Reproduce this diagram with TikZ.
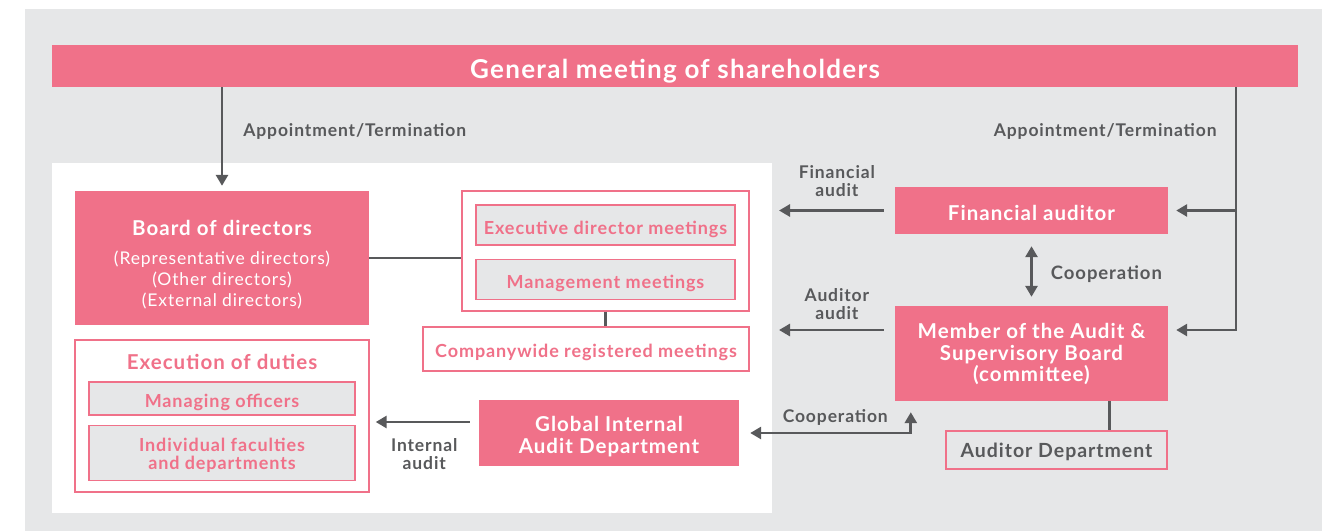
\documentclass[tikz,border=0pt]{standalone}
\usepackage{fontspec}
\setmainfont{Lato}[LetterSpace=5]
\usetikzlibrary{arrows.meta}
\usetikzlibrary{positioning}

\definecolor{rose}{HTML}{F07189}
\definecolor{paper}{HTML}{E6E7E8}
\definecolor{ink}{HTML}{58595B}

\newcommand\dirline[1]{{\mdseries\fontsize{17.5}{21}\selectfont #1}}

\begin{document}
\begin{tikzpicture}[x=1pt,y=-1pt,>={Triangle[length=11pt,width=12pt]},
    every node/.style={inner sep=0pt,align=center},
    solid box/.style={fill=rose,text=white,text depth=0pt,
      font=\bfseries\fontsize{20.5}{21.6}\selectfont},
    frame/.style={draw=rose,line width=1.4pt,fill=white},
    sub box/.style={draw=rose,line width=1.4pt,fill=paper,text=rose,
      text height=18pt,text depth=0pt,font=\bfseries\fontsize{18}{18.3}\selectfont},
    tag/.style={text=ink,font=\bfseries\fontsize{17.5}{18}\selectfont},
    link/.style={draw=ink,line width=2.8pt}]
  \useasboundingbox (0,0) rectangle (1323,531);
  \fill[paper] (25,9) rectangle (1322,531);
  \fill[white] (52,163) rectangle (772,513);

  % shareholders on top
  \node[solid box,minimum width=1246pt,minimum height=42pt,text height=24pt,
    font=\bfseries\fontsize{26}{30}\selectfont] (gm) at (675,66)
    {General meeting of shareholders};

  % executive side
  \node[solid box,minimum width=294pt,minimum height=134pt,text height=96pt,
    font=\bfseries\fontsize{20.5}{21}\selectfont] (board) at (222,258)
    {Board of directors\\[7.3pt]
     \dirline{(Representative directors)}\\
     \dirline{(Other directors)}\\
     \dirline{(External directors)}};
  \node[frame,minimum width=287pt,minimum height=120pt] (meet) at (605.5,251) {};
  \node[sub box,minimum width=259pt,minimum height=40pt] (exec) at (605.5,225)
    {Executive director meetings};
  \node[sub box,minimum width=259pt,minimum height=40pt] (mgmt) [below=13pt of exec]
    {Management meetings};
  \node[frame,minimum width=326pt,minimum height=44pt,text=rose,
    text height=16.6pt,text depth=0pt,
    font=\bfseries\fontsize{18}{20}\selectfont] (cw) at (586,349)
    {Companywide registered meetings};

  \node[frame,minimum width=294pt,minimum height=152pt] (duty) at (222,416) {};
  \node[text=rose,font=\bfseries\fontsize{20.5}{22}\selectfont] (dtitle) at (222,362)
    {Execution of duties};
  \node[sub box,minimum width=266pt,minimum height=33pt,text height=17.6pt] (mo)
    at (222,398.5) {Managing officers};
  \node[sub box,minimum width=266pt,minimum height=55pt,text height=33.6pt] (fac)
    [below=9pt of mo] {Individual faculties\\and departments};
  \node[solid box,minimum width=260pt,minimum height=66pt,text height=40.6pt] (gia)
    at (609,433) {Global Internal\\Audit Department};

  % audit side
  \node[solid box,minimum width=273pt,minimum height=47pt,text height=20.4pt] (fa)
    at (1031.5,210.5) {Financial auditor};
  \node[solid box,minimum width=273pt,minimum height=95pt,text height=56pt,
    font=\bfseries\fontsize{20.5}{21.5}\selectfont] (asb) at (1031.5,353.5)
    {Member of the Audit \&\\Supervisory Board\\(committee)};
  \node[draw=rose,line width=2.4pt,fill=paper,text=ink,
    text height=14.6pt,text depth=0pt,font=\bfseries\fontsize{19.5}{20}\selectfont,
    minimum width=221pt,minimum height=38pt] (ad) at (1056.5,450)
    {Auditor Department};

  \coordinate (split) at (1236,87);
  \coordinate (fa out) at (779,210.5);
  \coordinate (asb out) at (779,330);

  % connectors
  \draw[link,->,shorten >=5pt] (board.north |- gm.south) --
    node[tag,right=20pt,pos=.43] {Appointment/Termination} (board.north);
  \draw[link,->,shorten >=8pt] (split) |-
    node[tag,left=18pt,pos=.18] {Appointment/Termination} (fa);
  \draw[link,->,shorten >=8pt] (split) |- ([yshift=23.5pt]asb.east);
  \draw[link,->,shorten <=11pt] (fa) --
    node[tag,above=12pt] {Financial\\audit} (fa out);
  \draw[link,->,shorten <=11pt] ([yshift=23.5pt]asb.west) --
    node[tag,above=9pt] {Auditor\\audit} (asb out);
  \draw[link,<->,shorten <=12pt,shorten >=9pt] (fa) --
    node[tag,right=18pt,yshift=-4pt,font=\bfseries\fontsize{18.5}{20}\selectfont]
    {Cooperation} (asb);
  \draw[link] (board.east) -- (board.east -| meet.west);
  \draw[link] (meet.south) -- (meet.south |- cw.north);
  \draw[link,->,shorten <=9pt,shorten >=6pt] ([yshift=11pt]gia.west) --
    node[tag,below=15pt] {Internal\\audit} ([yshift=11pt]gia.west -| duty.east);
  \draw[link,<->,shorten <=11pt,shorten >=11pt] (gia.east) -|
    node[tag,above=6pt,pos=.28] {Cooperation} ([xshift=16pt]asb.south west);
  \draw[link] ([xshift=-59pt]asb.south east) -- ([xshift=-59pt]asb.south east |- ad.north);
\end{tikzpicture}
\end{document}
